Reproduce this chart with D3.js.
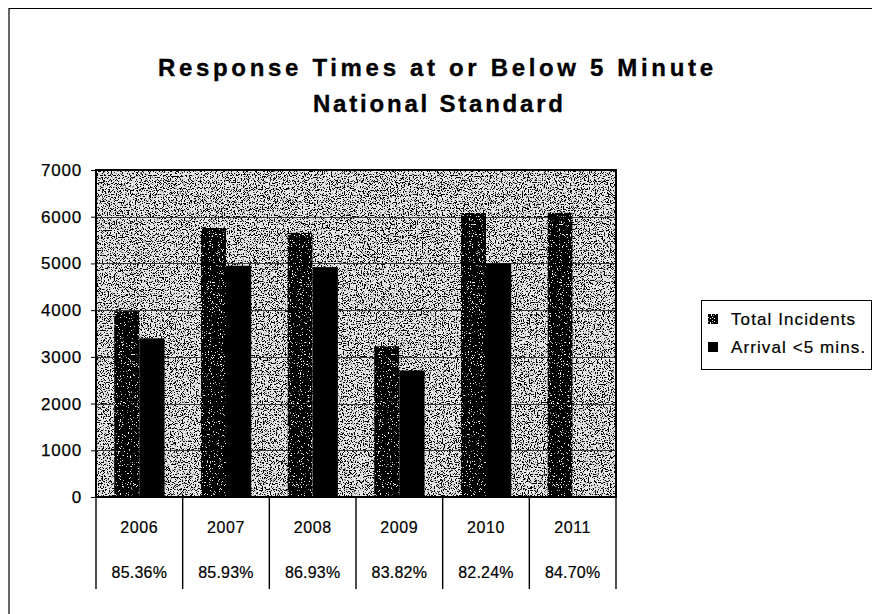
<!DOCTYPE html>
<html>
<head>
<meta charset="utf-8">
<script src="https://cdn.jsdelivr.net/npm/d3@7/dist/d3.min.js"></script>
<style>
  html, body { margin: 0; padding: 0; background: #fff; }
  svg { display: block; font-family: Arial, "Liberation Sans", sans-serif; }
</style>
</head>
<body>
<svg id="chart" width="872" height="614"></svg>
<script>
// Yearly incident counts and arrivals within five minutes
const years = ["2006", "2007", "2008", "2009", "2010", "2011"];
const totalIncidents = [3980, 5760, 5660, 3230, 6080, 6090];
const arrivalUnder5 = [3397, 4950, 4920, 2707, 5000, null];
const percentLabels = ["85.36%", "85.93%", "86.93%", "83.82%", "82.24%", "84.70%"];
const seriesNames = ["Total Incidents", "Arrival <5 mins."];
const yTicks = [0, 1000, 2000, 3000, 4000, 5000, 6000, 7000];

const svg = d3.select("#chart");
const plot = { left: 96, right: 616, top: 170, bottom: 497 };
const tableBottom = 589;

// Stipple textures for the plot background and the total-incident bars
const defs = svg.append("defs");
const bgGrain = defs.append("filter").attr("id", "bgGrain")
  .attr("x", 0).attr("y", 0).attr("width", 1).attr("height", 1);
bgGrain.append("feTurbulence").attr("type", "fractalNoise")
  .attr("baseFrequency", 0.85).attr("numOctaves", 2).attr("seed", 11).attr("result", "noise");
bgGrain.append("feColorMatrix").attr("in", "noise").attr("type", "matrix")
  .attr("values", "0 0 0 0 0  0 0 0 0 0  0 0 0 0 0  -16 0 0 0 7.55").attr("result", "dots");
bgGrain.append("feComposite").attr("in", "dots").attr("in2", "SourceGraphic")
  .attr("operator", "over").attr("result", "mix");
bgGrain.append("feComposite").attr("in", "mix").attr("in2", "SourceAlpha").attr("operator", "in");

const barGrain = defs.append("filter").attr("id", "barGrain")
  .attr("x", 0).attr("y", 0).attr("width", 1).attr("height", 1);
barGrain.append("feTurbulence").attr("type", "fractalNoise")
  .attr("baseFrequency", 0.9).attr("numOctaves", 2).attr("seed", 4).attr("result", "noise");
barGrain.append("feColorMatrix").attr("in", "noise").attr("type", "matrix")
  .attr("values", "0 0 0 0 1  0 0 0 0 1  0 0 0 0 1  14 0 0 0 -9.1").attr("result", "specks");
barGrain.append("feComposite").attr("in", "specks").attr("in2", "SourceGraphic")
  .attr("operator", "over").attr("result", "mix");
barGrain.append("feComposite").attr("in", "mix").attr("in2", "SourceAlpha").attr("operator", "in");

// Outer frame
svg.append("path")
  .attr("d", "M9,614 V8.5 H872")
  .attr("fill", "none").attr("stroke", "#000").attr("stroke-width", 1.2);

// Title
const title = svg.append("text")
  .attr("text-anchor", "start")
  .attr("font-weight", "bold").attr("font-size", 24).attr("fill", "#000")
  .attr("stroke", "#000").attr("stroke-width", 0.35);
title.append("tspan").attr("x", 158).attr("y", 76)
  .attr("textLength", 555).attr("lengthAdjust", "spacing")
  .text("Response Times at or Below 5 Minute");
title.append("tspan").attr("x", 313).attr("y", 112)
  .attr("textLength", 250).attr("lengthAdjust", "spacing")
  .text("National Standard");

// Scales
const x0 = d3.scaleBand().domain(years).range([plot.left, plot.right]).paddingInner(0).paddingOuter(0);
const x1 = d3.scaleBand().domain(seriesNames).range([0, x0.bandwidth()]).paddingInner(0).paddingOuter(0.72);
const y = d3.scaleLinear().domain([0, 7000]).range([plot.bottom, plot.top]);

// Plot background
svg.append("rect")
  .attr("x", plot.left).attr("y", plot.top)
  .attr("width", plot.right - plot.left).attr("height", plot.bottom - plot.top)
  .attr("fill", "#e6e6e6").attr("filter", "url(#bgGrain)");

// Gridlines
svg.append("g").selectAll("line")
  .data(yTicks.filter(d => d > 0 && d < 7000))
  .join("line")
  .attr("x1", plot.left).attr("x2", plot.right)
  .attr("y1", d => Math.round(y(d)) + 0.5).attr("y2", d => Math.round(y(d)) + 0.5)
  .attr("stroke", "#3a3a3a").attr("stroke-width", 1);

// Bars
const rows = years.map((yr, i) => ({ year: yr, values: [totalIncidents[i], arrivalUnder5[i]] }));
const groups = svg.append("g").selectAll("g")
  .data(rows).join("g")
  .attr("transform", d => `translate(${x0(d.year)},0)`);
groups.selectAll("rect")
  .data(d => d.values.map((v, k) => ({ key: seriesNames[k], value: v, k })).filter(d => d.value != null))
  .join("rect")
  .attr("x", d => x1(d.key))
  .attr("y", d => y(d.value))
  .attr("width", x1.bandwidth())
  .attr("height", d => y(0) - y(d.value))
  .attr("fill", "#000")
  .attr("filter", d => d.k === 0 ? "url(#barGrain)" : null);

// Y axis
const yAxis = d3.axisLeft(y).tickValues(yTicks).tickSize(5).tickPadding(9).tickFormat(d3.format("d"));
const gy = svg.append("g").attr("transform", `translate(${plot.left},0)`).call(yAxis);
gy.select(".domain").remove();
gy.selectAll(".tick line").attr("stroke", "#000");
gy.selectAll(".tick text")
  .attr("font-size", 17).attr("letter-spacing", 0.8)
  .attr("font-family", "Arial, 'Liberation Sans', sans-serif").attr("fill", "#000")
  .attr("stroke", "#000").attr("stroke-width", 0.25);

// Plot border
svg.append("rect")
  .attr("x", plot.left).attr("y", plot.top)
  .attr("width", plot.right - plot.left).attr("height", plot.bottom - plot.top)
  .attr("fill", "none").attr("stroke", "#000").attr("stroke-width", 2);

// Data table below the plot
const dividers = years.map(d => x0(d)).concat([plot.right]);
svg.append("g").selectAll("line")
  .data(dividers).join("line")
  .attr("x1", d => d).attr("x2", d => d)
  .attr("y1", plot.bottom).attr("y2", tableBottom)
  .attr("stroke", "#000").attr("stroke-width", 1.4);

svg.append("g").selectAll("text")
  .data(years).join("text")
  .attr("x", d => x0(d) + x0.bandwidth() / 2)
  .attr("y", 533)
  .attr("text-anchor", "middle")
  .attr("font-size", 16).attr("letter-spacing", 0.6)
  .attr("stroke", "#000").attr("stroke-width", 0.2)
  .text(d => d);

svg.append("g").selectAll("text")
  .data(percentLabels).join("text")
  .attr("x", (d, i) => x0(years[i]) + x0.bandwidth() / 2)
  .attr("y", 578)
  .attr("text-anchor", "middle")
  .attr("font-size", 16).attr("letter-spacing", 0.2)
  .attr("stroke", "#000").attr("stroke-width", 0.2)
  .text(d => d);

// Legend
const legend = svg.append("g");
legend.append("rect")
  .attr("x", 701.5).attr("y", 300.5).attr("width", 170).attr("height", 69)
  .attr("fill", "#fff").attr("stroke", "#000").attr("stroke-width", 1);
const items = legend.selectAll("g.item")
  .data(seriesNames).join("g").attr("class", "item")
  .attr("transform", (d, i) => `translate(708,${314 + i * 28})`);
items.append("rect")
  .attr("x", 0).attr("y", 0).attr("width", 10).attr("height", 10)
  .attr("fill", "#000")
  .attr("filter", (d, i) => i === 0 ? "url(#barGrain)" : null);
items.append("text")
  .attr("x", 23).attr("y", 11)
  .attr("font-size", 17).attr("letter-spacing", 1.1)
  .attr("stroke", "#000").attr("stroke-width", 0.2)
  .text(d => d);
</script>
</body>
</html>
